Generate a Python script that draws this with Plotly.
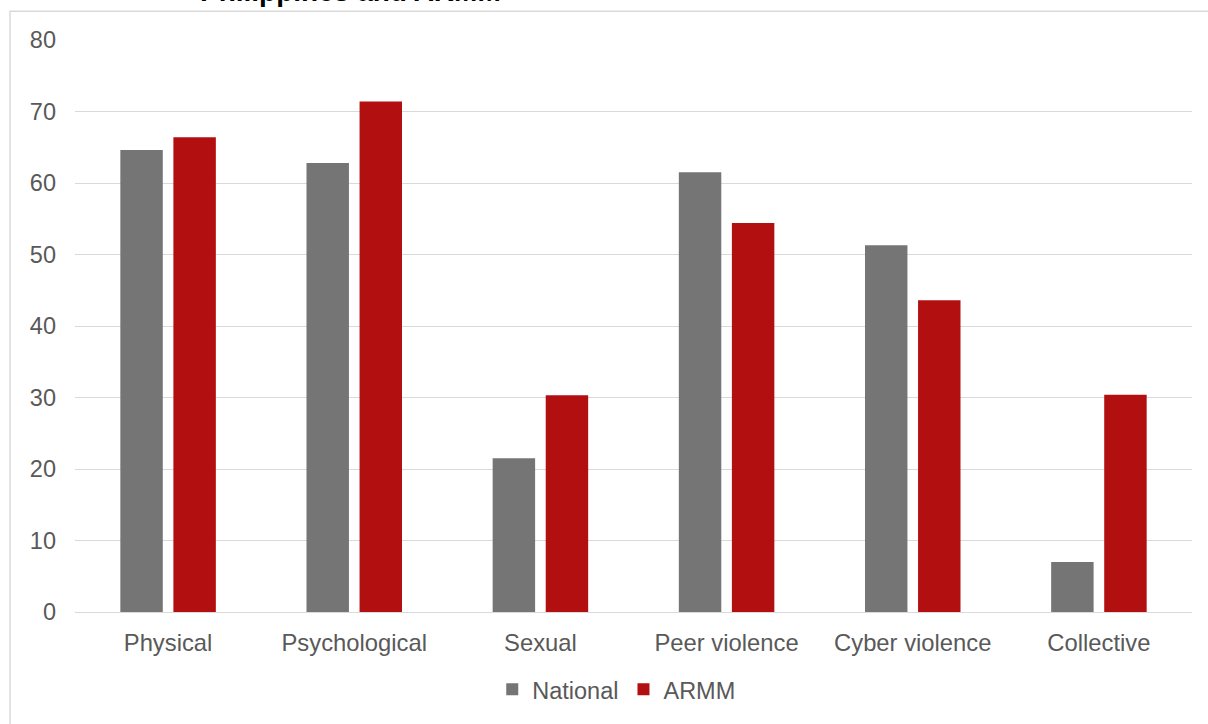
import plotly.graph_objects as go

categories = ["Physical", "Psychological", "Sexual", "Peer violence", "Cyber violence", "Collective"]
national = [64.6, 62.8, 21.5, 61.5, 51.3, 7.0]
armm = [66.4, 71.4, 30.3, 54.4, 43.6, 30.4]
y_ticks = [0, 10, 20, 30, 40, 50, 60, 70, 80]
title_text = "Philippines and ARMM"

W, H = 1208, 724
L, R, T, B = 75, 16, 40, 109
pw, ph = W - L - R, H - T - B

def px_x(p):
    return (p - L) / pw

def px_y(p):
    return (H - B - p) / ph

font_family = "Liberation Sans, Arial, sans-serif"

fig = go.Figure()
fig.add_trace(go.Bar(name="National", x=categories, y=national,
                     marker=dict(color="#757575", line=dict(width=0))))
fig.add_trace(go.Bar(name="ARMM", x=categories, y=armm,
                     marker=dict(color="#B20F10", line=dict(width=0))))

fig.update_layout(
    width=W, height=H,
    margin=dict(l=L, r=R, t=T, b=B),
    paper_bgcolor="white", plot_bgcolor="white",
    barmode="group", bargap=0.43, bargroupgap=0.2,
    font=dict(family=font_family, size=23.5, color="#595959"),
    showlegend=True,
    legend=dict(orientation="h", x=0.485, xanchor="center", y=px_y(693), yanchor="middle",
                font=dict(size=23.5, color="#595959"), itemwidth=30, traceorder="normal"),
    xaxis=dict(showgrid=False, showline=False, zeroline=False, ticks="",
               ticklabelstandoff=14, tickfont=dict(size=23.8, color="#595959")),
    yaxis=dict(range=[0, 80], tickvals=y_ticks, showgrid=True, gridcolor="#d9d9d9",
               gridwidth=1.4, zeroline=True, zerolinecolor="#d9d9d9", zerolinewidth=1.4,
               showline=False, ticks="", ticklabelstandoff=18,
               tickfont=dict(size=23.5, color="#595959")),
    shapes=[dict(type="rect", xref="paper", yref="paper",
                 x0=px_x(10), x1=px_x(1230), y0=px_y(11), y1=px_y(760),
                 line=dict(color="#d9d9d9", width=1.5), fillcolor="rgba(0,0,0,0)", layer="below")],
    annotations=[dict(text="<b>" + title_text + "</b>", xref="paper", yref="paper",
                      x=px_x(350), y=px_y(-9), xanchor="center", yanchor="middle",
                      showarrow=False, font=dict(size=28, color="#000000", family=font_family))],
)

fig.write_html("out.html", config={"displayModeBar": False},
               post_script="document.body.style.margin='0';")
